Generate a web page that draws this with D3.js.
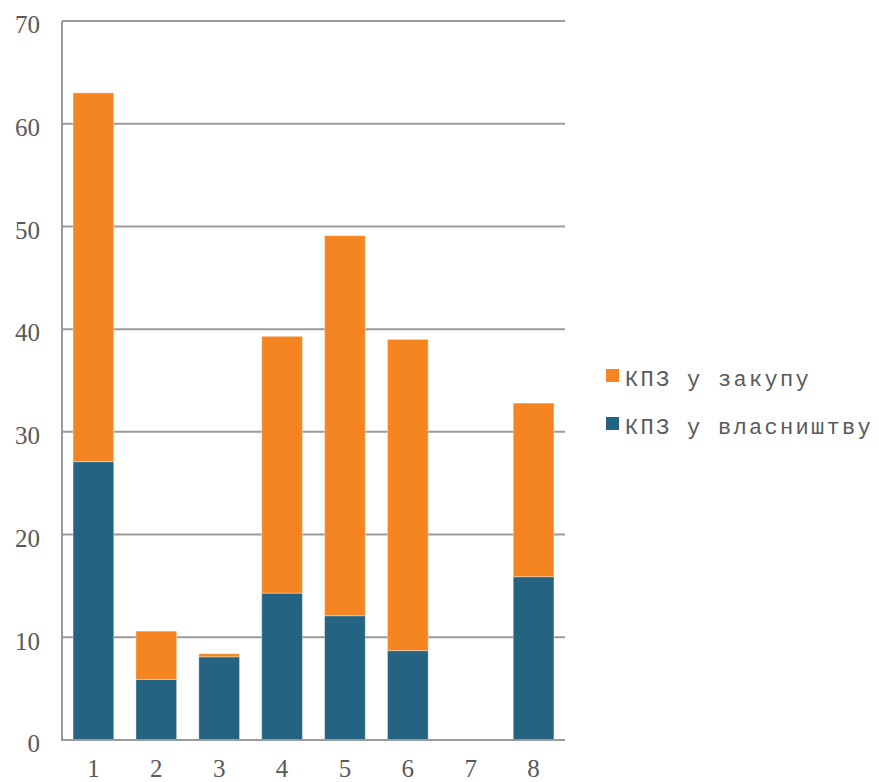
<!DOCTYPE html>
<html><head><meta charset="utf-8">
<script src="https://cdn.jsdelivr.net/npm/d3@7"></script>
<style>body{margin:0;background:#fff;}</style>
</head><body>
<svg id="c" width="879" height="782"></svg>
<script>
const categories = ["1","2","3","4","5","6","7","8"];
const ownedValues = [27.1, 5.9, 8.1, 14.3, 12.1, 8.7, 0, 15.9];
const leaseValues = [35.9, 4.7, 0.3, 25.0, 37.0, 30.3, 0, 16.9];
const seriesNames = ["КПЗ у власништву", "КПЗ у закупу"];
const yTicks = [0,10,20,30,40,50,60,70];
const colors = ["#246482", "#F58520"];

const svg = d3.select("#c");
const x = d3.scaleBand().domain(categories).range([62, 565]).paddingInner(0.353).paddingOuter(0.176);
const y = d3.scaleLinear().domain([0, 70]).range([740, 21]);

const rows = categories.map((c, i) => ({cat: c, owned: ownedValues[i], lease: leaseValues[i]}));
const stack = d3.stack().keys(["owned", "lease"])(rows);

// gridlines
svg.append("g").selectAll("line").data(yTicks.filter(t => t > 0)).join("line")
  .attr("x1", 62).attr("x2", 565)
  .attr("y1", d => y(d)).attr("y2", d => y(d))
  .attr("stroke", "#9a9a9a").attr("stroke-width", 2);

// bars
svg.append("g").selectAll("g").data(stack).join("g")
  .attr("fill", (d, i) => colors[i])
  .selectAll("rect").data(d => d.filter(s => s[1] - s[0] > 0)).join("rect")
  .attr("x", d => x(d.data.cat))
  .attr("width", x.bandwidth())
  .attr("y", d => y(d[1]))
  .attr("height", d => y(d[0]) - y(d[1]))
  .attr("stroke", "#ffffff").attr("stroke-opacity", 0.35).attr("stroke-width", 1);

// axes lines
svg.append("line").attr("x1", 62).attr("x2", 62).attr("y1", y(70)).attr("y2", y(0) + 1)
  .attr("stroke", "#9a9a9a").attr("stroke-width", 2);
svg.append("line").attr("x1", 61).attr("x2", 565).attr("y1", y(0)).attr("y2", y(0))
  .attr("stroke", "#9a9a9a").attr("stroke-width", 2);

// y tick labels
const yAxis = d3.axisLeft(y).tickValues(yTicks).tickSize(0).tickPadding(0);
const ga = svg.append("g").attr("transform", "translate(40,0)").call(yAxis)
  .style("font-family", "'Liberation Serif', 'DejaVu Serif', serif").style("font-size", "25px");
ga.select(".domain").remove();
ga.selectAll("text").style("font-family", "'Liberation Serif', 'DejaVu Serif', serif")
  .style("font-size", "25px").attr("fill", "#595959").attr("dy", "0.35em").attr("dx", 0)
  .attr("transform", "translate(0,3)");

// x tick labels
const xAxis = d3.axisBottom(x).tickSize(0).tickPadding(0);
const gx = svg.append("g").attr("transform", "translate(0,759)").call(xAxis)
  .style("font-family", "'Liberation Serif', 'DejaVu Serif', serif").style("font-size", "25px");
gx.select(".domain").remove();
gx.selectAll("text").style("font-family", "'Liberation Serif', 'DejaVu Serif', serif")
  .style("font-size", "25px").attr("fill", "#595959").attr("dy", "0.71em");

// legend
const legendItems = [{name: seriesNames[1], color: colors[1]}, {name: seriesNames[0], color: colors[0]}];
const lg = svg.append("g").selectAll("g").data(legendItems).join("g")
  .attr("transform", (d, i) => `translate(606,${369 + i * 48})`);
lg.append("rect").attr("width", 13).attr("height", 13).attr("fill", d => d.color);
lg.append("text").attr("x", 19).attr("y", 17).text(d => d.name)
  .attr("font-family", "'Liberation Mono', 'DejaVu Sans Mono', monospace")
  .attr("font-size", 22).attr("letter-spacing", 2.3).attr("fill", "#595959");
</script>
</body></html>
